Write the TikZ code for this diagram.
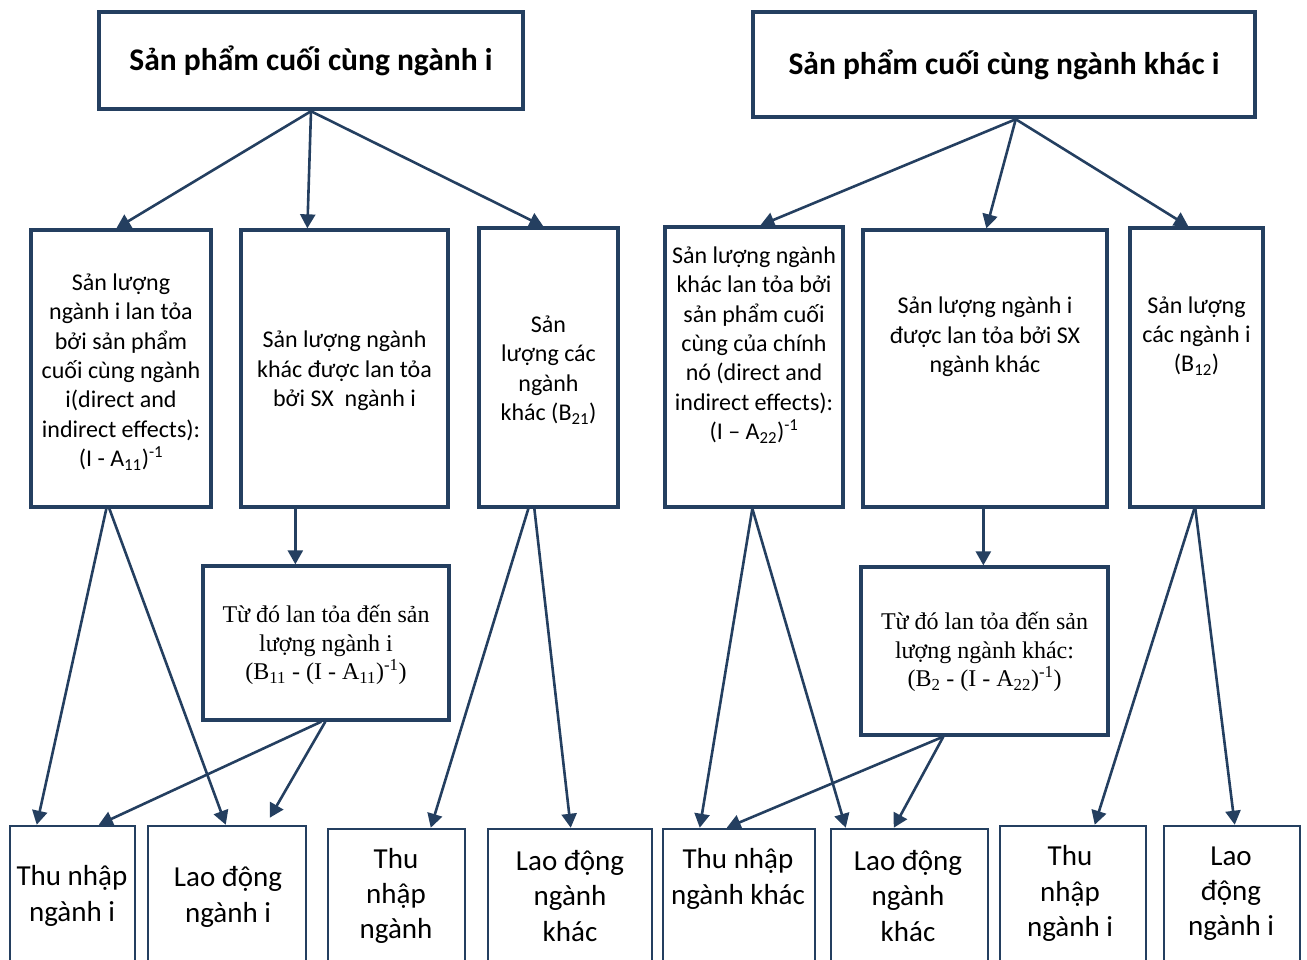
\documentclass[tikz,border=0pt]{standalone}
\usepackage{fontspec}
\setmainfont{Carlito}
\newfontfamily\serifone{Liberation Serif}
\usetikzlibrary{arrows.meta,calc}
\definecolor{navy}{HTML}{243F60}
\begin{document}
\begin{tikzpicture}[x=1pt,y=-1pt,
  box/.style={draw=navy, fill=white, rectangle, inner sep=0pt},
  topbox/.style={box, line width=4.5pt, font=\bfseries\fontsize{31.5}{36}\selectfont},
  midbox/.style={box, line width=3.3pt, align=center, font=\fontsize{24}{29.4}\selectfont},
  serbox/.style={box, line width=3.3pt, align=center, font=\serifone\fontsize{24}{28.5}\selectfont},
  lowbox/.style={box, line width=2.5pt},
  txt/.style={align=center, inner sep=0pt, font=\fontsize{24}{29.4}\selectfont},
  btxt/.style={align=center, inner sep=0pt, font=\fontsize{29}{35.3}\selectfont},
  arr/.style={draw=navy, line width=2.6pt, -{Triangle[length=14pt,width=15pt]}},
]
\useasboundingbox (0,0) rectangle (1307,960);
\clip (0,0) rectangle (1307,960);

% top boxes
\node[topbox, minimum width=424pt, minimum height=97pt] (TL) at (311,60.5) {Sản phẩm cuối cùng ngành i};
\node[topbox, minimum width=502pt, minimum height=105pt] (TR) at (1004,64.5) {Sản phẩm cuối cùng ngành khác i};

% middle boxes
\node[midbox, minimum width=180pt, minimum height=277pt] (A) at (121,368.5) {};
\node[txt] (At) at (121,372)
 {Sản lượng\\ngành i lan tỏa\\bởi sản phẩm\\cuối cùng ngành\\i(direct and\\indirect effects):\\(I - A\textsubscript{11})\textsuperscript{-1}};
\node[midbox, minimum width=207pt, minimum height=277pt] (B) at (344.5,368.5) {};
\node[txt] (Bt) at (344.5,371) {Sản lượng ngành\\khác được lan tỏa\\bởi SX\ \ ngành i};
\node[midbox, minimum width=139pt, minimum height=279pt] (C) at (548.5,367.5) {};
\node[txt] (Ct) at (548.5,370) {Sản\\lượng các\\ngành\\khác (B\textsubscript{21})};
\node[midbox, minimum width=178pt, minimum height=280pt] (D) at (754,367) {};
\node[txt] (Dt) at (754,345)
 {Sản lượng ngành\\khác lan tỏa bởi\\sản phẩm cuối\\cùng của chính\\nó (direct and\\indirect effects):\\(I – A\textsubscript{22})\textsuperscript{-1}};
\node[midbox, minimum width=244pt, minimum height=277pt] (E) at (985,368.5) {};
\node[txt] (Et) at (985,337) {Sản lượng ngành i\\được lan tỏa bởi SX\\ngành khác};
\node[midbox, minimum width=133pt, minimum height=279pt] (F) at (1196.5,367.5) {};
\node[txt] (Ft) at (1196.5,336) {Sản lượng\\các ngành i\\(B\textsubscript{12})};

% lower middle boxes
\node[serbox, minimum width=246pt, minimum height=154pt] (G) at (326,643) {};
\node[align=center, inner sep=0pt, font=\serifone\fontsize{24}{28.5}\selectfont] (Gt) at (326,645)
 {Từ đó lan tỏa đến sản\\lượng ngành i\\(B\textsubscript{11} - (I - A\textsubscript{11})\textsuperscript{-1})};
\node[serbox, minimum width=247pt, minimum height=168pt] (H) at (984.5,651) {};
\node[align=center, inner sep=0pt, font=\serifone\fontsize{24}{28.5}\selectfont] (Ht) at (984.5,652)
 {Từ đó lan tỏa đến sản\\lượng ngành khác:\\(B\textsubscript{2} - (I - A\textsubscript{22})\textsuperscript{-1})};

% bottom boxes
\node[lowbox, minimum width=125pt, minimum height=174pt] (b1) at (72.5,913) {};
\node[lowbox, minimum width=158pt, minimum height=174pt] (b2) at (227,913) {};
\node[lowbox, minimum width=137pt, minimum height=171pt] (b3) at (396.5,914.5) {};
\node[lowbox, minimum width=164pt, minimum height=171pt] (b4) at (570,914.5) {};
\node[lowbox, minimum width=152pt, minimum height=171pt] (b5) at (739,914.5) {};
\node[lowbox, minimum width=157pt, minimum height=171pt] (b6) at (909.5,914.5) {};
\node[lowbox, minimum width=146pt, minimum height=174pt] (b7) at (1073,913) {};
\node[lowbox, minimum width=136pt, minimum height=174pt] (b8) at (1232,913) {};

\node[btxt] (b1t) at (72,896) {Thu nhập\\ngành i};
\node[btxt] (b2t) at (228,897) {Lao động\\ngành i};
\node[btxt] (b3t) at (396,896) {Thu\\nhập\\ngành};
\node[btxt] (b4t) at (570,896) {Lao động\\ngành\\khác};
\node[btxt] (b5t) at (738,879) {Thu nhập\\ngành khác};
\node[btxt] (b6t) at (908,896) {Lao động\\ngành\\khác};
\node[btxt] (b7t) at (1070,893.5) {Thu\\nhập\\ngành i};
\node[btxt] (b8t) at (1231,893.5) {Lao\\động\\ngành i};

% connectors from top
\draw[arr] (TL.south) -- ([xshift=87pt]A.north west);
\draw[arr] (TL.south) -- ([xshift=68pt]B.north west);
\draw[arr] (TL.south) -- ([xshift=66pt]C.north west);
\draw[arr] ([xshift=265pt]TR.south west) -- ([xshift=97pt]D.north west);
\draw[arr] ([xshift=265pt]TR.south west) -- ([xshift=125pt]E.north west);
\draw[arr] ([xshift=265pt]TR.south west) -- ([xshift=60pt]F.north west);

% left half
\draw[arr] ([xshift=77pt]A.south west) -- ([xshift=28pt]b1.north west);
\draw[arr] ([xshift=80pt]A.south west) -- ([xshift=79pt]b2.north west);
\draw[arr] ([xshift=56pt]B.south west) -- ([xshift=94pt]G.north west);
\draw[arr] ([xshift=120pt]G.south west) -- ([xshift=90pt]b1.north west);
\draw[arr] ([xshift=124pt]G.south west) -- ([xshift=123pt,yshift=7pt]b2.north west);
\draw[arr] ([xshift=51pt]C.south west) -- ([xshift=104pt]b3.north west);
\draw[arr] ([xshift=57pt]C.south west) -- ([xshift=84pt]b4.north west);

% right half
\draw[arr] ([xshift=89pt]D.south west) -- ([xshift=38pt]b5.north west);
\draw[arr] ([xshift=89pt]D.south west) -- ([xshift=16pt]b6.north west);
\draw[arr] ([xshift=122pt]E.south west) -- ([xshift=124pt]H.north west);
\draw[arr] ([xshift=84pt]H.south west) -- ([xshift=65pt]b5.north west);
\draw[arr] ([xshift=84pt]H.south west) -- ([xshift=64pt]b6.north west);
\draw[arr] ([xshift=66pt]F.south west) -- ([xshift=96pt]b7.north west);
\draw[arr] ([xshift=67pt]F.south west) -- ([xshift=72pt]b8.north west);
\end{tikzpicture}
\end{document}
